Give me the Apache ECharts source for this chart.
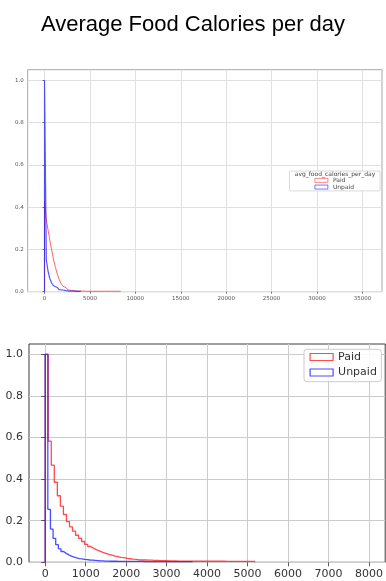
<!DOCTYPE html>
<html>
<head>
<meta charset="utf-8">
<script src="https://cdn.jsdelivr.net/npm/echarts@6/dist/echarts.min.js"></script>
<style>
  html, body { margin: 0; padding: 0; background: #fff; }
  #chart { width: 386px; height: 581px; }
</style>
</head>
<body>
<div id="chart"></div>
<script>
const chartTitle = 'Average Food Calories per day';
const legendTitle = 'avg_food_calories_per_day';
const seriesNames = ['Paid', 'Unpaid'];

// Overview panel: normalised step histograms, 200-calorie bins starting at 0
const overviewBinWidth = 200;
const overviewPaid = [0.43, 0.34, 0.29, 0.24, 0.195, 0.15, 0.115, 0.085, 0.06, 0.04,
  0.027, 0.018, 0.012, 0.008, 0.006, 0.004, 0.004, 0.003, 0.003, 0.003,
  0.003, 0.002, 0.002, 0.002, 0.002, 0.002, 0.002, 0.002, 0.002, 0.002,
  0.002, 0.002, 0.002, 0.002, 0.002, 0.002, 0.002, 0.002, 0.002, 0.002,
  0.002, 0.002];
const overviewUnpaid = [1.0, 0.15, 0.095, 0.06, 0.04, 0.028, 0.02, 0.014, 0.01, 0.008,
  0.006, 0.005, 0.004, 0.003, 0.003, 0.003, 0.002, 0.002, 0.002, 0.002];
const overviewXTicks = [0, 5000, 10000, 15000, 20000, 25000, 30000, 35000];
const overviewYTicks = [0, 0.2, 0.4, 0.6, 0.8, 1.0];

// Detail panel: the same distributions with finer bins, 0-8000 kcal
const detailPaidBinWidth = 75;
const detailPaid = [1.0, 0.583, 0.467, 0.385, 0.32, 0.27, 0.23, 0.196, 0.17, 0.15,
  0.13, 0.115, 0.10, 0.086, 0.076, 0.067, 0.060, 0.054, 0.048, 0.043,
  0.038, 0.034, 0.030, 0.027, 0.024, 0.022, 0.019, 0.017, 0.015, 0.014,
  0.012, 0.011, 0.011, 0.010, 0.010, 0.009, 0.009, 0.008, 0.008, 0.008,
  0.007, 0.007, 0.007, 0.006, 0.006, 0.006, 0.006, 0.006, 0.005, 0.005,
  0.005, 0.005, 0.005, 0.005, 0.005, 0.005, 0.005, 0.005, 0.005, 0.004,
  0.004, 0.004, 0.004, 0.004, 0.004, 0.004, 0.004, 0.004, 0.004];
const detailUnpaidBinWidth = 65;
const detailUnpaid = [1.0, 0.255, 0.16, 0.115, 0.085, 0.065, 0.052, 0.043, 0.036, 0.030,
  0.025, 0.021, 0.018, 0.016, 0.014, 0.013, 0.011, 0.010, 0.009, 0.008,
  0.007, 0.007, 0.006, 0.006, 0.005, 0.005, 0.005, 0.004, 0.004, 0.004,
  0.004, 0.004, 0.004, 0.004, 0.004, 0.004, 0.004, 0.003, 0.003, 0.003,
  0.003, 0.003, 0.003, 0.003, 0.003, 0.003, 0.003, 0.003, 0.003, 0.003,
  0.003, 0.003, 0.003, 0.003, 0.003, 0.003];
const detailXTicks = [0, 1000, 2000, 3000, 4000, 5000, 6000, 7000, 8000];
const detailYTicks = [0, 0.2, 0.4, 0.6, 0.8, 1.0];

// Outline of a step histogram: rise at the first edge, flat tops, drop at the last edge
function stepOutline(values, width) {
  const pts = [[0, 0]];
  values.forEach((v, i) => {
    pts.push([i * width, v], [(i + 1) * width, v]);
  });
  pts.push([values.length * width, 0]);
  return pts;
}

const RED_TOP = 'rgba(255,50,50,0.75)';
const BLUE_TOP = 'rgba(30,30,255,0.75)';
const RED = 'rgba(255,30,30,0.8)';
const BLUE = 'rgba(30,30,255,0.8)';

function xAxisFor(gridIndex, min, max, ticks, font, color, gridColor, tickLen) {
  return {
    type: 'value', gridIndex, min, max,
    axisLine: { show: false },
    axisTick: { show: true, inside: false, length: tickLen, customValues: ticks,
      lineStyle: { color: color, width: 0.8 } },
    axisLabel: { customValues: ticks, fontSize: font, color: color,
      fontFamily: 'DejaVu Sans', margin: tickLen + 2,
      formatter: v => String(Math.round(v)) },
    splitLine: { show: true, lineStyle: { color: gridColor, width: 1 } }
  };
}
function yAxisFor(gridIndex, ticks, font, color, gridColor, tickLen) {
  return {
    type: 'value', gridIndex, min: 0, max: 1.05,
    axisLine: { show: false },
    axisTick: { show: true, inside: false, length: tickLen, customValues: ticks,
      lineStyle: { color: color, width: 0.8 } },
    axisLabel: { customValues: ticks, fontSize: font, color: color,
      fontFamily: 'DejaVu Sans', margin: tickLen + 2,
      formatter: v => Number(v).toFixed(1) },
    splitLine: { show: true, lineStyle: { color: gridColor, width: 1 } }
  };
}

const chart = echarts.init(document.getElementById('chart'), null, { renderer: 'canvas' });
chart.setOption({
  animation: false,
  backgroundColor: '#fff',
  title: {
    text: chartTitle, left: 'center', top: 9,
    textStyle: { fontSize: 22, fontWeight: 'normal', color: '#000', fontFamily: 'Liberation Sans' }
  },
  grid: [
    { left: 27.7, top: 69.7, right: 4, bottom: 289.3, show: true,
      borderColor: '#a8a8a8', borderWidth: 1 },
    { left: 29, top: 344, right: -2, bottom: 18.7, show: true,
      borderColor: '#3c3c3c', borderWidth: 1 }
  ],
  xAxis: [
    xAxisFor(0, -1850, 37150, overviewXTicks, 5.5, '#555', '#e0e0e0', 2),
    xAxisFor(1, -400, 8400, detailXTicks, 11, '#333', '#cccccc', 4)
  ],
  yAxis: [
    yAxisFor(0, overviewYTicks, 5.5, '#555', '#e0e0e0', 2),
    yAxisFor(1, detailYTicks, 11, '#333', '#cccccc', 4)
  ],
  legend: [
    {
      left: 289.5, top: 171, orient: 'vertical',
      padding: [6, 26, 0.5, 25], itemWidth: 13, itemHeight: 4, itemGap: 0,
      backgroundColor: '#fff', borderColor: '#cfcfcf', borderWidth: 0.8, borderRadius: 1,
      textStyle: { fontSize: 6, lineHeight: 6.7, color: '#444', fontFamily: 'DejaVu Sans' },
      selectedMode: false,
      data: [
        { name: seriesNames[0], icon: 'rect', itemStyle: { color: 'rgba(0,0,0,0)', borderColor: RED_TOP, borderWidth: 0.8 } },
        { name: seriesNames[1], icon: 'rect', itemStyle: { color: 'rgba(0,0,0,0)', borderColor: BLUE_TOP, borderWidth: 0.8 } }
      ]
    },
    {
      left: 304, top: 349.3, orient: 'vertical',
      padding: [1.2, 4.5, 2.7, 5.5], itemWidth: 23, itemHeight: 7, itemGap: 2.5,
      backgroundColor: 'rgba(255,255,255,0.85)', borderColor: '#cccccc', borderWidth: 1, borderRadius: 3,
      textStyle: { fontSize: 11, lineHeight: 13, color: '#333', fontFamily: 'DejaVu Sans' },
      selectedMode: false,
      data: [
        { name: seriesNames[0], icon: 'rect', itemStyle: { color: 'rgba(0,0,0,0)', borderColor: RED, borderWidth: 1.2 } },
        { name: seriesNames[1], icon: 'rect', itemStyle: { color: 'rgba(0,0,0,0)', borderColor: BLUE, borderWidth: 1.2 } }
      ]
    }
  ],
  graphic: [
    { type: 'text', x: 335, y: 174.5, z: 100,
      style: { text: legendTitle, fontSize: 6, fill: '#444', fontFamily: 'DejaVu Sans',
        textAlign: 'center', textVerticalAlign: 'middle' } }
  ],
  series: [
    { name: seriesNames[0], type: 'line', xAxisIndex: 0, yAxisIndex: 0, showSymbol: false,
      data: stepOutline(overviewPaid, overviewBinWidth), lineStyle: { color: RED_TOP, width: 1 },
      itemStyle: { color: RED_TOP } },
    { name: seriesNames[1], type: 'line', xAxisIndex: 0, yAxisIndex: 0, showSymbol: false,
      data: stepOutline(overviewUnpaid, overviewBinWidth), lineStyle: { color: BLUE_TOP, width: 1.2 },
      itemStyle: { color: BLUE_TOP } },
    { name: seriesNames[0], type: 'line', xAxisIndex: 1, yAxisIndex: 1, showSymbol: false,
      data: stepOutline(detailPaid, detailPaidBinWidth), lineStyle: { color: RED, width: 1.3 },
      itemStyle: { color: RED } },
    { name: seriesNames[1], type: 'line', xAxisIndex: 1, yAxisIndex: 1, showSymbol: false,
      data: stepOutline(detailUnpaid, detailUnpaidBinWidth), lineStyle: { color: BLUE, width: 1.3 },
      itemStyle: { color: BLUE } }
  ]
});
</script>
</body>
</html>
